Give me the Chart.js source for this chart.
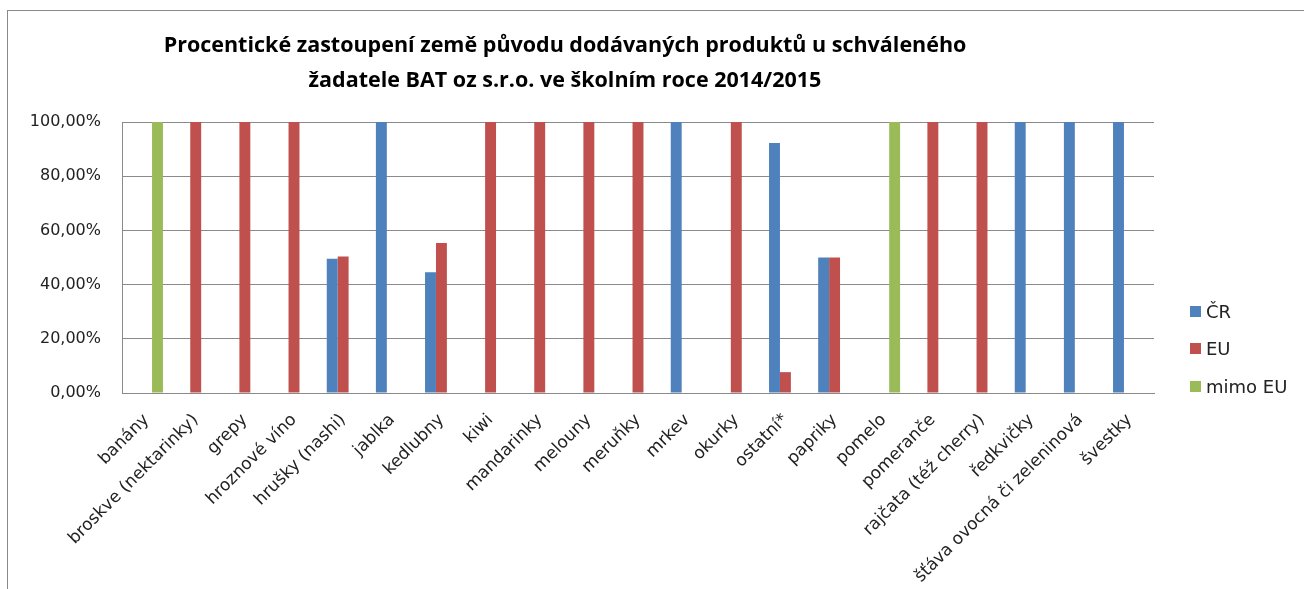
<!DOCTYPE html>
<html>
<head>
<meta charset="utf-8">
<script src="https://cdn.jsdelivr.net/npm/chart.js@4/dist/chart.umd.min.js"></script>
<style>
  body { margin: 0; background: #fff; }
  #wrap { position: relative; width: 1304px; height: 589px; overflow: hidden; }
  #frame { position: absolute; left: 7px; top: 10px; width: 1400px; height: 700px;
           border: 1px solid #8a8a8a; pointer-events: none; }
  #legend { position: absolute; left: 1190px; top: 300px; font-family: "DejaVu Sans", sans-serif;
            font-size: 18px; color: #222; }
  #legend div { height: 22px; margin-bottom: 15.5px; display: flex; align-items: center; }
  #legend span.box { display: inline-block; width: 11px; height: 11px; margin-right: 5px; }
</style>
</head>
<body>
<div id="wrap">
  <canvas id="chart"></canvas>
  <div id="frame"></div>
  <div id="legend"></div>
</div>
<script>
// categories
const products = [
  "banány", "broskve (nektarinky)", "grepy", "hroznové víno", "hrušky (nashi)",
  "jablka", "kedlubny", "kiwi", "mandarinky", "melouny", "meruňky", "mrkev",
  "okurky", "ostatní*", "papriky", "pomelo", "pomeranče", "rajčata (též cherry)",
  "ředkvičky", "šťáva ovocná či zeleninová", "švestky"
];

// series, percent
const crValues   = [0, 0, 0, 0, 49.6, 100, 44.6, 0, 0, 0, 0, 100, 0, 92.3, 50, 0, 0, 0, 100, 100, 100];
const euValues   = [0, 100, 100, 100, 50.4, 0, 55.4, 100, 100, 100, 100, 0, 100, 7.7, 50, 0, 100, 100, 0, 0, 0];
const mimoValues = [100, 0, 0, 0, 0, 0, 0, 0, 0, 0, 0, 0, 0, 0, 0, 100, 0, 0, 0, 0, 0];

const seriesNames = ["ČR", "EU", "mimo EU"];
const seriesColors = ["#4F81BD", "#C0504D", "#9BBB59"];

const titleLines = [
  "Procentické zastoupení země původu dodávaných produktů u schváleného",
  "žadatele BAT oz s.r.o. ve školním roce 2014/2015"
];

const datasets = [crValues, euValues, mimoValues].map((vals, i) => ({
  label: seriesNames[i],
  data: vals,
  backgroundColor: seriesColors[i],
  borderWidth: 0,
  categoryPercentage: 0.667,
  barPercentage: 1
}));

// legend (html)
const legendEl = document.getElementById("legend");
seriesNames.forEach((name, i) => {
  const row = document.createElement("div");
  row.innerHTML = `<span class="box" style="background:${seriesColors[i]}"></span>${name}`;
  legendEl.appendChild(row);
});

new Chart(document.getElementById("chart"), {
  type: "bar",
  data: { labels: products, datasets },
  options: {
    responsive: true,
    maintainAspectRatio: false,
    animation: false,
    // negative left pad so the title centre sits where the reference has it
    layout: { padding: { left: -24, right: 150, top: 10, bottom: 0 } },
    plugins: {
      legend: { display: false },
      tooltip: { enabled: false },
      title: {
        display: true,
        text: titleLines,
        color: "#000",
        font: { family: "Open Sans", size: 21.5, weight: "bold", lineHeight: 1.63 },
        padding: { top: 18, bottom: 24 }
      }
    },
    scales: {
      x: {
        grid: { display: false },
        border: { color: "#8a8a8a" },
        ticks: {
          color: "#222", font: { family: "DejaVu Sans", size: 17 },
          minRotation: 45, maxRotation: 45, autoSkip: false, padding: 9
        },
        afterFit: s => { s.height = 196; }
      },
      y: {
        min: 0, max: 100,
        grid: { color: "#8a8a8a", drawTicks: false },
        border: { color: "#8a8a8a" },
        ticks: {
          stepSize: 20, color: "#222", font: { family: "DejaVu Sans", size: 16 }, padding: 21,
          callback: v => v.toFixed(2).replace(".", ",") + "%"
        },
        afterFit: s => { s.width = 146; }
      }
    }
  }
});
</script>
</body>
</html>
